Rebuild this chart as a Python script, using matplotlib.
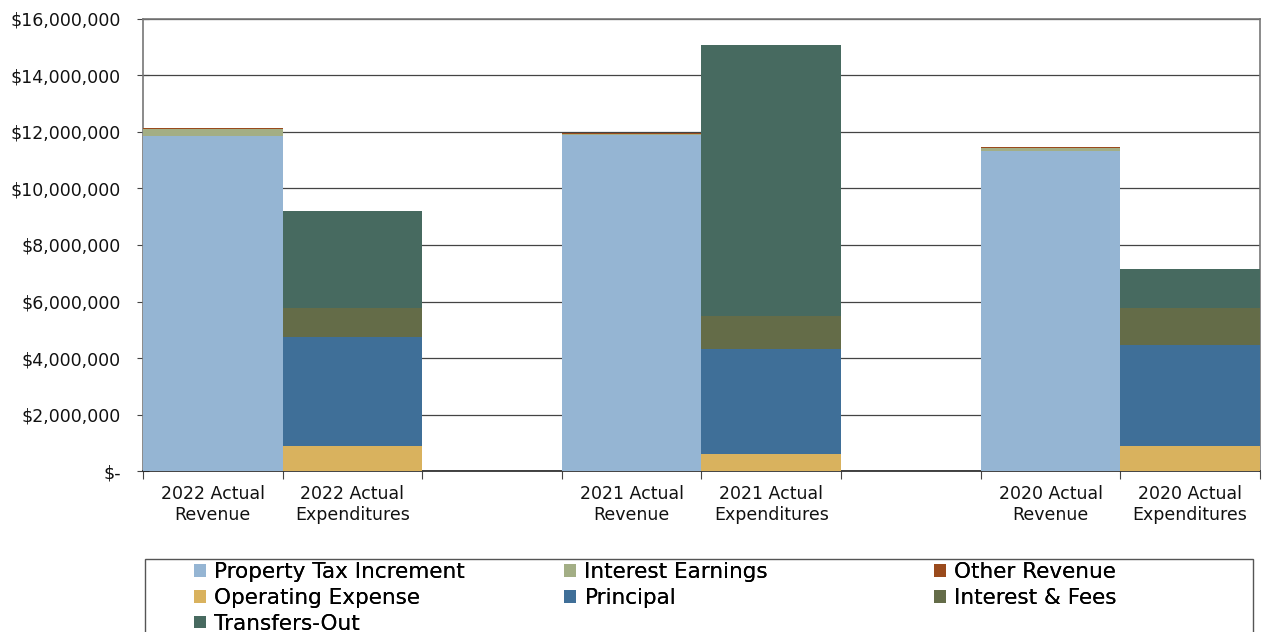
import matplotlib.pyplot as plt
import numpy as np
from matplotlib.ticker import FuncFormatter
from matplotlib.patches import Rectangle

# slots: 8 positions, the two blank ones separate the years
labels = ['2022 Actual\nRevenue', '2022 Actual\nExpenditures', '',
          '2021 Actual\nRevenue', '2021 Actual\nExpenditures', '',
          '2020 Actual\nRevenue', '2020 Actual\nExpenditures']

series = ['Property Tax Increment', 'Interest Earnings', 'Other Revenue',
          'Operating Expense', 'Principal', 'Interest & Fees', 'Transfers-Out']
colors = ['#95B5D3', '#A3AE85', '#9A4A1C', '#D9B25E', '#3F6F98', '#646C48', '#476A60']

property_tax = [11870000, 0, 0, 11880000, 0, 0, 11310000, 0]
interest_earn = [240000, 0, 0, 40000, 0, 0, 140000, 0]
other_rev = [40000, 0, 0, 60000, 0, 0, 30000, 0]
operating = [0, 880000, 0, 0, 600000, 0, 0, 880000]
principal = [0, 3860000, 0, 0, 3720000, 0, 0, 3580000]
int_fees = [0, 1030000, 0, 0, 1170000, 0, 0, 1310000]
transfers = [0, 3430000, 0, 0, 9590000, 0, 0, 1380000]

data = [property_tax, interest_earn, other_rev, operating, principal, int_fees, transfers]

plt.rcParams['font.family'] = ['DejaVu Sans']
fig = plt.figure(figsize=(12.65, 6.32), dpi=100)
ax = fig.add_axes([0.113, 0.2547, 0.883, 0.7153])

x = np.arange(len(labels))
bottom = np.zeros(len(labels))
handles = []
for name, vals, c in zip(series, data, colors):
    h = ax.bar(x, vals, width=1.0, bottom=bottom, color=c, label=name, zorder=3)
    handles.append(h)
    bottom += np.array(vals)

ax.set_xlim(-0.5, 7.5)
ax.set_ylim(0, 16000000)
ax.set_yticks(np.arange(0, 16000001, 2000000))
ax.yaxis.set_major_formatter(FuncFormatter(lambda v, p: '$-' if v == 0 else '${:,.0f}'.format(v)))
ax.grid(axis='y', color='#444444', linewidth=0.9, zorder=0)

ax.set_xticks(np.arange(-0.5, 8, 1))
ax.set_xticklabels([])
ax.set_xticks(x, minor=True)
ax.set_xticklabels(labels, minor=True, fontsize=12.5, linespacing=1.2, color='#111111')
ax.tick_params(axis='x', which='minor', length=0, pad=10)
ax.tick_params(axis='x', which='major', length=6, direction='out', color='#444444')
ax.tick_params(axis='y', labelsize=12.5, length=8, direction='inout', color='#444444',
               labelcolor='#111111', pad=12)

for s in ['left', 'right', 'top']:
    ax.spines[s].set_color('#777777')
    ax.spines[s].set_linewidth(1.2)
ax.spines['bottom'].set_color('#222222')
ax.spines['bottom'].set_linewidth(1.2)

# legend: three columns, laid out row by row like the original
cols = [[0, 3, 6], [1, 4], [2, 5]]
col_x = [194 / 1265, 564 / 1265, 934 / 1265]
for idx, cx in zip(cols, col_x):
    lg = fig.legend([handles[i] for i in idx], [series[i] for i in idx],
                    loc='upper left', bbox_to_anchor=(cx, 1 - 562 / 632),
                    fontsize=15.5, frameon=False, handlelength=0.55, handleheight=0.55,
                    handletextpad=0.4, borderaxespad=0, borderpad=0,
                    labelspacing=0.27)
    fig.add_artist(lg)

fig.patches.append(Rectangle((145 / 1265, -0.05), 1108 / 1265, 0.05 + 1 - 559 / 632,
                             transform=fig.transFigure, fill=False,
                             edgecolor='#555555', linewidth=1.0))

fig.savefig('out.png', dpi=100)
